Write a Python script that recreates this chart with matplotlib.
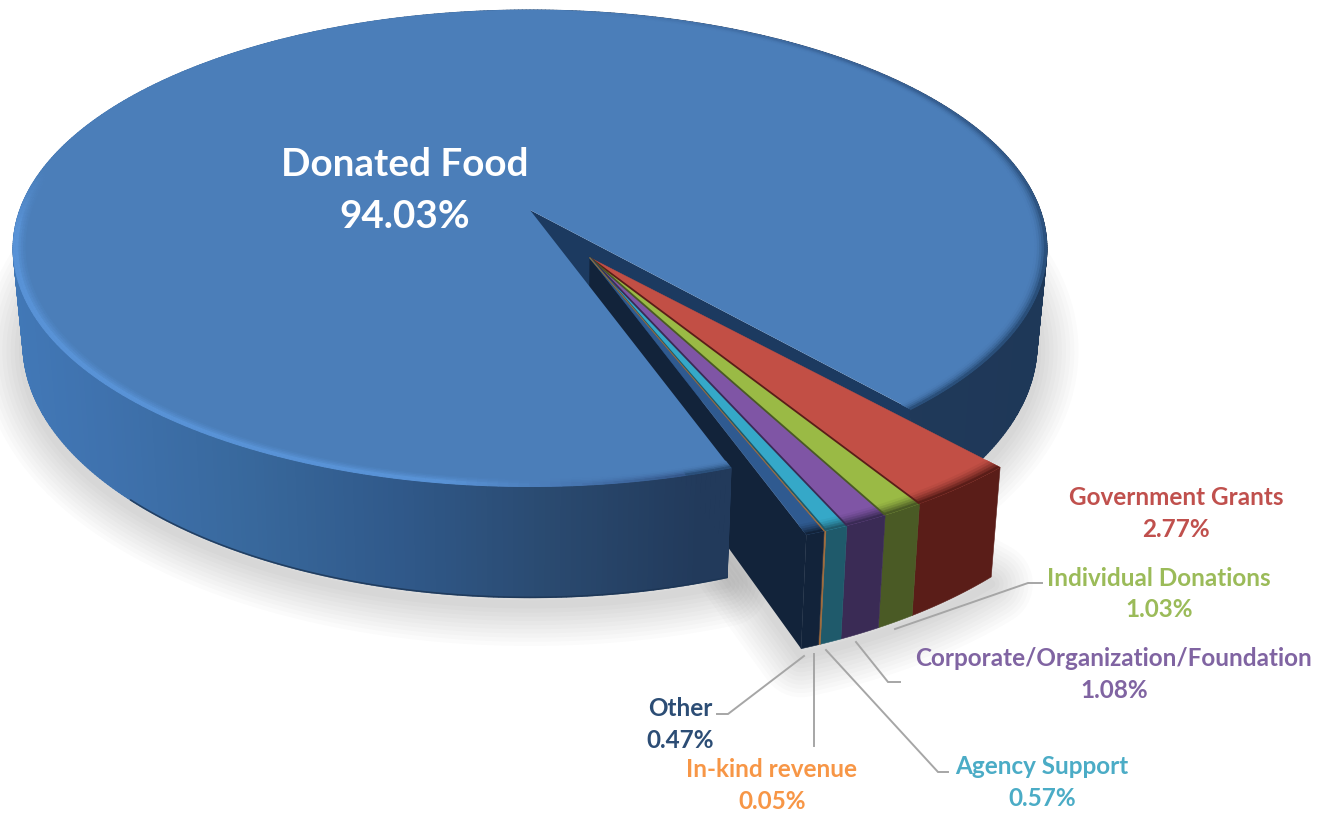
import numpy as np
import matplotlib
matplotlib.use("Agg")
import matplotlib.pyplot as plt
from matplotlib.collections import PolyCollection
from matplotlib.colors import to_rgb

# ---- data ----
categories = ["Donated Food", "Government Grants", "Individual Donations",
              "Corporate/Organization/Foundation", "Agency Support",
              "In-kind revenue", "Other"]
values = [94.03, 2.77, 1.03, 1.08, 0.57, 0.05, 0.47]
top_colors = ["#4b7eb9", "#c24f45", "#9aba45", "#7f55a5", "#35a8c8", "#f79646", "#2f5a90"]
wall_colors = ["#1f3a5c", "#5a1d18", "#4a5a25", "#3a2b55", "#1f5a6b", "#a06a3a", "#12233a"]
label_colors = ["#ffffff", "#c0504d", "#9bbb59", "#8064a2", "#4bacc6", "#f79646", "#2c4d75"]
label_pos = [(405, 164, 216, 27.8), (1176, 497, 529, 17.5), (1159, 578, 609, 17.5),
             (1114, 658, 690, 17.5), (1042, 766, 798, 17.5), (772, 769, 801, 17.5),
             (680, 708, 740, 17.5)]
leaders = [
    [(895, 629), (1028, 583), (1042, 583)],
    [(856, 642), (888, 682), (900, 682)],
    [(826, 650), (938, 772), (948, 772)],
    [(814, 654), (814, 746)],
    [(804, 656), (728, 714), (717, 714)],
]

# ---- projection of the tilted disc ----
CX, CY, A, B, P, H, SHRINK = 530, 210, 510, 232, 0.161, 93, 0.019
START = -49.0
SLICE_START = -48.0      # the pulled-out group sits slightly rotated
SLICE_STRETCH = 1.06     # and slightly enlarged by the perspective
EXPLODE = (0.113, -0.198)


def proj(u, v, z=0.0):
    u, v = np.asarray(u, float), np.asarray(v, float)
    w = 1 + P * v
    return (CX + A * u / w * (1 - SHRINK * z), CY - B * v / w + H * z / w)


def ring(t0, t1, r=1.0, n=200, off=(0, 0), z=0.0):
    t = np.radians(np.linspace(t0, t1, n))
    x, y = proj(r * np.cos(t) + off[0], r * np.sin(t) + off[1], z)
    return np.column_stack([x, y])


def mix(c1, c2, f):
    a, b = np.array(to_rgb(c1)), np.array(to_rgb(c2))
    return tuple(a + (b - a) * np.clip(f, 0, 1))


WALL_X = [0, 100, 250, 400, 550, 700, 1060]
WALL_C = ["#4279b8", "#3f72ae", "#38689c", "#30598a", "#2a4a70", "#223a5b", "#1e3858"]


def wall_color(x):
    arr = np.array([to_rgb(c) for c in WALL_C])
    return tuple(np.interp(x, WALL_X, arr[:, i]) for i in range(3))


fig = plt.figure(figsize=(13.32, 8.13), dpi=100, facecolor="white")
ax = fig.add_axes([0, 0, 1, 1])
ax.set_xlim(0, 1332)
ax.set_ylim(813, 0)
ax.axis("off")

sweeps = [v * 3.6 for v in values]
slice_sweeps = [s * SLICE_STRETCH for s in sweeps]
main_end = START + sweeps[0]  # counter-clockwise from START to main_end
slice_left = SLICE_START - sum(slice_sweeps[1:])

# soft ground shadow
bottom_main = ring(START, main_end, z=1.0)
bottom_sl = ring(slice_left, SLICE_START, off=EXPLODE, z=1.0)
for outline in (np.vstack([bottom_main, proj(0, 0, 1.0)]), np.vstack([bottom_sl, proj(*EXPLODE, 1.0)])):
    for lw in np.arange(60, 0, -6):
        ax.add_patch(plt.Polygon(outline + [0, 7], closed=True, fc="none", ec="black",
                                 lw=lw, alpha=0.016, joinstyle="round", zorder=1))

# main right cut wall (seen inside the gap)
rim_a = ring(START, START, n=1)[0]
rim_a_b = ring(START, START, n=1, z=1)[0]
ax.add_patch(plt.Polygon([proj(0, 0), rim_a, rim_a_b, proj(0, 0, 1)], closed=True,
                         fc="#1c3a60", ec="none", zorder=2))

# exploded left cut face
e_rim = ring(slice_left, slice_left, n=1, off=EXPLODE)[0]
e_rim_b = ring(slice_left, slice_left, n=1, off=EXPLODE, z=1)[0]
ax.add_patch(plt.Polygon([proj(*EXPLODE), e_rim, e_rim_b, proj(*EXPLODE, 1)], closed=True,
                         fc=wall_colors[-1], ec="none", zorder=3))

# main outer wall, as narrow shaded facets
facets, cols = [], []
for a0 in np.arange(START, main_end, 0.5):
    a1 = min(a0 + 0.5, main_end)
    t = ring(a0, a1, n=2)
    b = ring(a0, a1, n=2, z=1)
    facets.append(np.vstack([t, b[::-1]]))
    cols.append(wall_color(t[:, 0].mean()))
ax.add_collection(PolyCollection(facets, facecolors=cols, edgecolors=cols, linewidths=1.0, zorder=4))

# dark thin lower edge at the front of the wall
edge = ring(225, main_end, n=120, z=1)
ax.plot(edge[:, 0], edge[:, 1], color="#1c3554", lw=1.2, alpha=0.8, zorder=4.5)

# main top face
ax.add_patch(plt.Polygon(np.vstack([proj(0, 0), ring(START, main_end, n=720)]), closed=True,
                         fc=top_colors[0], ec="none", zorder=5))


# bevelled rim of the top face
def rim_color(a):
    a = (a + 360) % 360
    if 170 <= a < 262:
        return mix("#4b7eb9", "#5c97dc", min((a - 170) / 15, 1))
    if 262 <= a < 285:
        return mix("#5c97dc", "#34578a", (a - 262) / 23)
    if 285 <= a < 345:
        return "#2a4f7a"
    if a >= 345 or a < 45:
        d = (a - 345) % 360
        return mix("#2a4f7a", "#3a6499", d / 60)
    return mix("#3a6499", "#4b7eb9", min((a - 45) / 40, 1))


def ramp(a, k, n):
    """Blend weight across the band; the highlight peaks just inside the rim."""
    a = (a + 360) % 360
    f = (k + 1) / n
    if 170 <= a < 275:
        return f ** 1.2 if f < 0.7 else 0.85
    return f ** 2


bev, bc = [], []
radii = np.linspace(0.978, 1.0, 6)
for a0 in np.arange(START, main_end, 1.0):
    a1 = min(a0 + 1.0, main_end)
    mid = a0 + 0.5
    rc = rim_color(mid)
    for k, (r0, r1) in enumerate(zip(radii[:-1], radii[1:])):
        bev.append(np.vstack([ring(a0, a1, r0, 2), ring(a0, a1, r1, 2)[::-1]]))
        bc.append(mix("#4b7eb9", rc, ramp(mid, k, 5)))
ax.add_collection(PolyCollection(bev, facecolors=bc, edgecolors=bc, linewidths=0.7, zorder=6))

# exploded slices (clockwise from SLICE_START)
angle = SLICE_START
band = np.linspace(0.97, 1.0, 6)
for i in range(1, len(values)):
    a0, a1 = angle - slice_sweeps[i], angle
    t = ring(a0, a1, n=30, off=EXPLODE)
    b = ring(a0, a1, n=30, off=EXPLODE, z=1)
    ax.add_patch(plt.Polygon(np.vstack([t, b[::-1]]), closed=True, fc=wall_colors[i],
                             ec=wall_colors[i], lw=0.4, zorder=7))
    ax.add_patch(plt.Polygon(np.vstack([proj(*EXPLODE), t]), closed=True, fc=top_colors[i],
                             ec=top_colors[i], lw=0.3, zorder=8))
    for k, (r0, r1) in enumerate(zip(band[:-1], band[1:])):
        c = mix(top_colors[i], wall_colors[i], ((k + 1) / 5) ** 1.5)
        ax.add_patch(plt.Polygon(np.vstack([ring(a0, a1, r0, 12, off=EXPLODE),
                                            ring(a0, a1, r1, 12, off=EXPLODE)[::-1]]),
                                 closed=True, fc=c, ec=c, lw=0.3, zorder=8.5))
    angle = a0

# dark seams between slices
angle = SLICE_START
for i in range(1, len(values) - 1):
    angle -= slice_sweeps[i]
    r = ring(angle, angle, n=1, off=EXPLODE, z=0)[0]
    e = proj(*EXPLODE)
    ax.plot([e[0], r[0]], [e[1], r[1]], color=wall_colors[i],
            lw=0.7 if values[i] < 0.1 else 1.3, zorder=9, solid_capstyle="butt")

# leader lines
for pts in leaders:
    xs, ys = zip(*pts)
    ax.plot(xs, ys, color="#a6a6a6", lw=1.4, zorder=10, solid_joinstyle="miter")

# labels
for name, val, col, (x, y1, y2, fs) in zip(categories, values, label_colors, label_pos):
    for s, y in ((name, y1), (f"{val:.2f}%", y2)):
        ax.text(x, y, s, color=col, fontsize=fs, fontweight="bold", family=["Lato", "DejaVu Sans"],
                ha="center", va="center", zorder=11)

fig.savefig("out.png", dpi=100, facecolor="white")
